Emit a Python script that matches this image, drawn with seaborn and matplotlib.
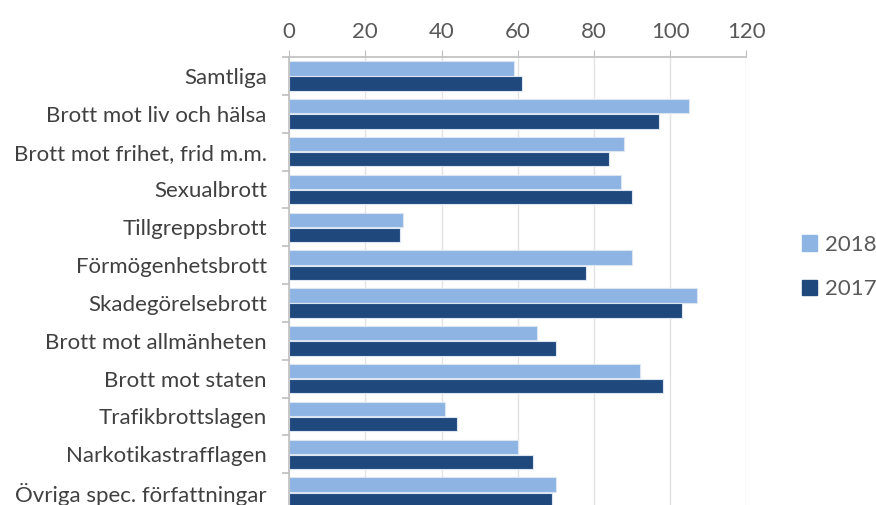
import matplotlib
matplotlib.use("Agg")
import matplotlib.pyplot as plt
import seaborn as sns
import pandas as pd
from matplotlib.patches import Patch

categories = [
    "Samtliga", "Brott mot liv och hälsa", "Brott mot frihet, frid m.m.",
    "Sexualbrott", "Tillgreppsbrott", "Förmögenhetsbrott", "Skadegörelsebrott",
    "Brott mot allmänheten", "Brott mot staten", "Trafikbrottslagen",
    "Narkotikastrafflagen", "Övriga spec. författningar",
]
values_2018 = [59, 105, 88, 87, 30, 90, 107, 65, 92, 41, 60, 70]
values_2017 = [61, 97, 84, 90, 29, 78, 103, 70, 98, 44, 64, 69]
years = ["2018", "2017"]
x_ticks = [0, 20, 40, 60, 80, 100, 120]

colors = {"2018": "#8EB4E3", "2017": "#1F497D"}

df = pd.DataFrame({
    "kategori": categories * 2,
    "värde": values_2018 + values_2017,
    "år": ["2018"] * len(categories) + ["2017"] * len(categories),
})

sns.set_style("white")
plt.rcParams["font.family"] = ["Lato", "DejaVu Sans"]

fig = plt.figure(figsize=(8.76, 5.05), dpi=100)
ax = fig.add_axes([0.330, -0.012, 0.522, 0.899])

sns.barplot(
    data=df, y="kategori", x="värde", hue="år", hue_order=years,
    order=categories, palette=colors, orient="h", width=0.8, gap=0.05,
    saturation=1, edgecolor="#DCE6F2", linewidth=0.8, ax=ax, legend=False,
    errorbar=None,
)

ax.set_xlim(0, 120)
ax.set_ylim(len(categories) - 0.5, -0.5)
ax.set_xticks(x_ticks)
ax.xaxis.tick_top()
ax.set_xlabel("")
ax.set_ylabel("")
ax.grid(axis="x", color="#E3E3E3", linewidth=1)
ax.set_axisbelow(True)

for side in ["right", "bottom"]:
    ax.spines[side].set_visible(False)
for side in ["top", "left"]:
    ax.spines[side].set_color("#BFBFBF")
    ax.spines[side].set_linewidth(1.2)

ax.tick_params(axis="x", which="major", top=True, length=5, color="#BFBFBF",
               labelsize=16, labelcolor="#595959", pad=6)
ax.tick_params(axis="y", which="major", length=0, labelsize=16,
               labelcolor="#404040", pad=16)
ax.set_yticks([i - 0.5 for i in range(len(categories) + 1)], minor=True)
ax.tick_params(axis="y", which="minor", left=True, length=5, color="#BFBFBF", width=1.2)

handles = [Patch(facecolor=colors[y], edgecolor=colors[y]) for y in years]
fig.legend(handles, years, loc="center left", bbox_to_anchor=(0.915, 0.471),
           frameon=False, fontsize=16, labelcolor="#595959", borderpad=0,
           borderaxespad=0, handlelength=0.7, handleheight=0.7,
           handletextpad=0.35, labelspacing=1.1)

fig.savefig("out.png", dpi=100)
